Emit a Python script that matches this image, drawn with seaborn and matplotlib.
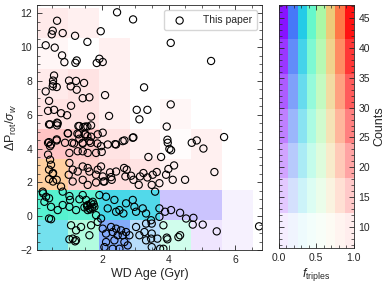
import numpy as np
import matplotlib
matplotlib.use("Agg")
import matplotlib.pyplot as plt
from matplotlib.ticker import AutoMinorLocator, MultipleLocator
import seaborn as sns

# observed pairs: WD age (Gyr) and rotation offset
age = [2.45, 2.93, 0.65, 0.52, 0.49, 0.82, 1.19, 1.96, 0.31, 0.58, 1.56, 4.06,
       0.80, 0.87, 1.24, 1.20, 1.92, 1.84, 2.02, 0.56, 0.53, 0.53, 0.52, 0.64,
       0.31, 1.01, 1.22, 1.46, 1.06, 1.24, 3.26, 2.09, 1.42, 1.62, 0.41, 0.38,
       0.56, 1.07, 0.77, 0.95, 0.44, 0.65, 0.65, 1.67, 2.21, 3.04, 3.36, 3.12,
       4.06, 3.94, 1.29, 1.44, 1.56, 0.97, 1.26, 1.49, 1.32, 1.56, 0.64, 2.67,
       2.94, 2.39, 3.96, 3.97, 0.38, 0.44, 0.89, 1.16, 1.42, 1.66, 1.86,
       5.27, 4.02, 4.07, 4.69, 4.84, 5.04, 5.66, 3.77, 3.64, 3.92, 3.99, 4.16,
       4.12, 4.49, 3.72, 3.49, 5.37, 3.59, 3.72, 3.72, 3.89, 4.07, 4.34, 4.52,
       4.74, 4.72, 5.02, 5.44, 6.71, 3.84, 3.49, 3.49, 3.66, 3.94, 3.96, 4.29,
       4.34, 3.74, 3.84, 3.49,
       1.99, 3.39, 2.66, 2.74, 3.14, 3.36, 2.94, 2.24, 2.04, 2.29, 3.52,
       0.41, 0.67, 1.32, 1.50, 1.67, 0.98, 1.30, 1.50, 1.67, 1.87, 2.02,
       0.41, 0.47, 0.64, 1.10, 1.42, 1.62, 1.02, 1.27, 1.42, 1.57, 1.82,
       1.97, 2.17, 2.42, 2.62, 2.92,
       0.44, 0.47, 0.41, 0.52, 0.41, 0.53, 0.64, 1.02, 1.12, 1.00, 1.27,
       1.42, 1.57, 1.62, 1.87, 1.82, 1.97, 1.12, 1.42, 1.57, 1.82, 2.07,
       2.02, 2.27, 2.42, 2.70, 2.87, 3.24, 3.10,
       0.22, 0.32, 0.41, 0.27, 0.47, 0.41, 0.77, 0.82, 1.02, 1.04, 0.82,
       1.02, 0.67, 1.22, 1.32, 1.42, 1.52, 1.57, 1.47, 1.62, 1.67, 1.77,
       1.72, 1.57, 1.55, 1.70, 1.75, 1.65,
       1.92, 1.82, 1.97, 2.12, 2.17, 2.37, 2.42, 2.52, 2.64, 2.72, 2.92,
       2.97, 3.02, 3.22, 3.32, 3.47, 3.32,
       0.47, 1.07, 1.22, 1.12, 1.22, 1.37, 1.62, 1.67, 1.87, 1.02, 1.19,
       2.02, 2.12, 2.27, 2.32, 2.42, 2.47, 2.57, 2.62, 2.72, 2.82, 2.67,
       2.37, 2.12, 2.07, 2.32, 2.52, 2.77,
       3.02, 3.12, 3.27, 3.32, 3.47, 0.23, 0.38, 0.53]
dp = [12.06, 11.64, 11.56, 10.97, 10.76, 10.83, 10.67, 10.94, 10.11, 9.97, 10.31, 10.25,
      9.51, 9.11, 9.21, 9.07, 9.31, 9.06, 9.12, 8.32, 8.02, 7.82, 7.68, 7.64,
      7.38, 8.02, 8.00, 7.88, 7.68, 7.48, 7.62, 7.16, 6.98, 7.03, 6.82, 6.23,
      6.29, 6.53, 6.09, 5.97, 5.43, 5.53, 5.37, 5.89, 5.93, 6.29, 6.29, 5.73,
      6.61, 5.30, 5.33, 5.27, 5.30, 4.90, 4.88, 4.84, 4.58, 4.73, 4.54, 4.48,
      4.66, 4.26, 4.52, 4.34, 4.34, 4.14, 4.34, 4.30, 4.30, 4.34, 4.30,
      9.18, 3.98, 3.90, 4.34, 4.48, 4.00, 4.68, 3.50, 2.61, 2.45, 2.79, 3.00,
      2.15, 2.15, 1.95, 1.85, 2.61, 1.45, 0.46, -0.04, 0.26, 0.36, 0.20, -0.14,
      -0.10, -0.50, -0.50, -0.90, -0.60, -0.54, -0.44, -1.03, -1.33, -1.27, -1.37, -1.24,
      -1.13, -1.93, -1.93, -1.83,
      3.80, 3.50, 2.85, 2.75, 2.35, 2.29, 2.15, 2.59, 2.05, 2.15, 2.45,
      5.43, 5.49, 5.33, 5.30, 5.37, 4.90, 4.84, 4.84, 4.70, 4.84, 4.94,
      4.38, 4.24, 4.48, 4.34, 4.34, 4.44, 3.74, 3.84, 3.84, 3.74, 3.74,
      4.14, 4.24, 4.24, 4.44, 4.64,
      3.34, 3.04, 2.75, 2.51, 2.19, 2.05, 2.15, 3.15, 2.75, 2.45, 2.64,
      2.94, 2.85, 2.64, 2.75, 2.45, 2.94, 2.05, 2.15, 1.85, 1.99, 2.05,
      2.35, 2.31, 2.64, 2.35, 2.39, 2.55, 1.85,
      1.45, 1.15, 1.06, 0.85, 0.55, -0.14, 1.75, 1.45, 1.19, 0.96, 0.66,
      0.55, 0.36, 0.36, 1.00, 1.25, 0.96, 0.66, 0.52, 0.46, 0.76, 0.55,
      0.85, 0.36, 0.60, 0.50, 0.70, 0.40,
      1.25, 0.06, -0.14, 1.15, 0.46, 0.96, 0.26, 0.36, 0.16, 0.76, 0.96,
      0.55, 0.26, 0.46, 0.16, -0.24, -0.44,
      -0.18, -0.54, -0.84, -1.33, -1.42, -0.64, -1.13, -0.54, -0.34, -1.37, -1.49,
      -0.74, -1.03, -0.64, -0.94, -0.74, -1.13, -0.84, -1.13, -0.94, -1.13, -1.53,
      -1.43, -1.53, -1.83, -1.93, -1.93, -1.73,
      -0.64, -1.13, -0.94, -1.43, -1.33, 1.35, 3.64, 2.55]

# background grid (rows: bottom -> top, cols: left -> right)
age_edges = np.linspace(0.05, 6.5, 8)
dp_edges = np.linspace(-2.0, 12.3, 9)
counts = np.array([
    [31, 27, 31, 19, 19, 11, 9],
    [45, 43, 39, 37, 19, 19, 9],
    [31, 15, 12, 11, 9, 9, 0],
    [16, 15, 11, 9, 7, 9, 0],
    [11, 11, 9, 0, 8, 0, 0],
    [10, 11, 9, 0, 0, 0, 0],
    [8, 0, 9, 0, 0, 0, 0],
    [10, 9, 0, 0, 0, 0, 0],
])
f_triples = np.array([
    [0.30, 0.45, 0.15, 0.20, 0.45, 0.03, 0.03],
    [0.40, 0.40, 0.30, 0.30, 0.08, 0.08, 0.05],
    [0.75, 0.95, 1.0, 1.0, 1.0, 1.0, 1.0],
    [1.0, 1.0, 1.0, 1.0, 1.0, 1.0, 1.0],
    [1.0, 1.0, 1.0, 1.0, 1.0, 1.0, 1.0],
    [1.0, 1.0, 1.0, 1.0, 1.0, 1.0, 1.0],
    [1.0, 1.0, 1.0, 1.0, 1.0, 1.0, 1.0],
    [1.0, 1.0, 1.0, 1.0, 1.0, 1.0, 1.0],
])

count_min, count_max = 6.5, 47.2
n_count_bins = 7
n_f_bins = 8

cmap = plt.get_cmap("rainbow")


def to_rgba(f, c):
    rgba = cmap(f)
    rgba[..., 3] = np.clip((c - count_min) / (count_max - count_min), 0, 1)
    return rgba


sns.set_style("ticks")
plt.rcParams["font.family"] = ["Liberation Sans", "DejaVu Sans"]
plt.rcParams["mathtext.fontset"] = "custom"
plt.rcParams["mathtext.rm"] = "Liberation Sans"
plt.rcParams["mathtext.it"] = "Liberation Sans:italic"
plt.rcParams["xtick.direction"] = "in"
plt.rcParams["ytick.direction"] = "in"

fig = plt.figure(figsize=(3.9, 2.86), dpi=100)
ax = fig.add_axes([0.095, 0.126, 0.577, 0.857])
cax = fig.add_axes([0.715, 0.133, 0.192, 0.85])

# 2d histogram coloured by triple fraction, faded by counts
ax.imshow(to_rgba(f_triples, counts), origin="lower", aspect="auto",
          interpolation="nearest",
          extent=[age_edges[0], age_edges[-1], dp_edges[0], dp_edges[-1]])

sns.scatterplot(x=age, y=dp, ax=ax, s=27, facecolor="none", edgecolor="black",
                linewidth=0.8, label="This paper", zorder=3)

ax.set_xlim(0.05, 6.8)
ax.set_ylim(-2, 12.5)
ax.xaxis.set_major_locator(MultipleLocator(2))
ax.yaxis.set_major_locator(MultipleLocator(2))
ax.xaxis.set_minor_locator(AutoMinorLocator())
ax.yaxis.set_minor_locator(AutoMinorLocator())
ax.tick_params(which="both", top=True, right=True, labelsize=7.5)
ax.tick_params(which="major", length=3.5, width=0.6)
ax.tick_params(which="minor", length=2, width=0.5)
ax.set_xlabel("WD Age (Gyr)", fontsize=9, labelpad=2)
ax.set_ylabel(r"$\Delta\mathrm{P}_{\rm rot}/\sigma_w$", fontsize=9, labelpad=1)
for s in ax.spines.values():
    s.set_linewidth(0.6)
ax.legend(loc="upper right", fontsize=7.5, frameon=True, fancybox=True,
          edgecolor="#cccccc", handletextpad=1.2, borderpad=0.5,
          markerscale=1.0)

# 2d colour key
f_vals = np.linspace(0, 1, n_f_bins)
c_edges = np.linspace(count_min, count_max, n_count_bins + 1)
c_mid = 0.5 * (c_edges[:-1] + c_edges[1:])
ff, cc = np.meshgrid(f_vals, c_mid)
cax.imshow(to_rgba(ff, cc), origin="lower", aspect="auto",
           interpolation="nearest", extent=[0, 1, count_min, count_max])
cax.yaxis.tick_right()
cax.yaxis.set_label_position("right")
cax.set_ylabel("Counts", fontsize=9, labelpad=2)
cax.set_xlabel(r"$f_{\rm triples}$", fontsize=9, labelpad=2)
cax.xaxis.set_major_locator(MultipleLocator(0.5))
cax.xaxis.set_minor_locator(AutoMinorLocator())
cax.yaxis.set_major_locator(MultipleLocator(5))
cax.yaxis.set_minor_locator(AutoMinorLocator())
cax.tick_params(which="both", top=True, left=True, labelsize=7.5)
cax.tick_params(which="major", length=3.5, width=0.6)
cax.tick_params(which="minor", length=2, width=0.5)
cax.xaxis.set_major_formatter(matplotlib.ticker.FormatStrFormatter("%.1f"))
for s in cax.spines.values():
    s.set_linewidth(0.6)

fig.savefig("out.png", dpi=100)
